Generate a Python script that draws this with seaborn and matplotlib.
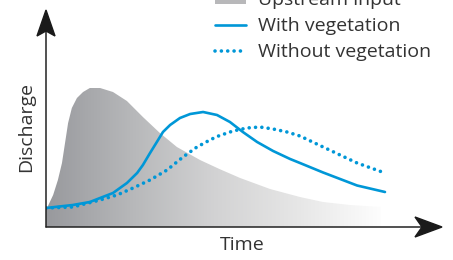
import numpy as np
import matplotlib
matplotlib.use("Agg")
import matplotlib.pyplot as plt
import seaborn as sns
from matplotlib.colors import LinearSegmentedColormap
from matplotlib.patches import Patch, Polygon
from matplotlib.lines import Line2D

# hydrograph values (time, discharge in arbitrary units)
t_upstream = [0.0, 0.03, 0.21, 0.35, 0.47, 0.56, 0.65, 0.76, 0.91, 1.09, 1.29,
              1.59, 1.97, 2.38, 2.85, 3.35, 3.85, 4.53, 5.1, 5.71, 6.59, 7.47,
              8.15, 8.94, 9.85]
q_upstream = [1.8, 1.9, 3.2, 4.7, 6.4, 8.4, 10.4, 11.9, 12.9, 13.5, 13.9,
              13.9, 13.5, 12.6, 11.0, 9.4, 8.0, 6.7, 5.8, 4.9, 3.8, 3.0,
              2.5, 2.2, 2.0]

t_with = [0.0, 0.79, 1.29, 1.59, 1.97, 2.38, 2.68, 2.85, 3.06, 3.26, 3.44,
          3.65, 3.94, 4.24, 4.62, 5.03, 5.41, 5.79, 6.21, 6.68, 7.18, 7.47,
          8.15, 9.15, 9.97]
q_with = [1.9, 2.2, 2.5, 2.9, 3.4, 4.4, 5.4, 6.2, 7.4, 8.5, 9.5,
          10.2, 10.9, 11.3, 11.5, 11.2, 10.5, 9.5, 8.5, 7.6, 6.8, 6.4,
          5.45, 4.15, 3.5]

t_without = [0.0, 0.79, 1.59, 2.09, 2.56, 3.06, 3.56, 4.03, 4.44, 4.82, 5.03,
             5.5, 5.91, 6.29, 6.68, 7.09, 7.47, 8.15, 9.15, 9.97]
q_without = [1.9, 2.0, 2.7, 3.2, 3.9, 4.7, 5.7, 7.0, 8.0, 8.7, 9.05,
             9.6, 9.9, 10.0, 9.8, 9.5, 9.1, 8.0, 6.4, 5.4]

labels = ["Upstream input", "With vegetation", "Without vegetation"]

blue = "#0097d7"
ink = "#333333"

sns.set_style("white")
plt.rcParams["font.family"] = ["Open Sans", "DejaVu Sans"]

W, H = 453, 260
fig = plt.figure(figsize=(W / 100, H / 100), dpi=100)
# axes origin at pixel (46, 227), arrow tips at x=442 and y=10
ax = fig.add_axes([46 / W, (H - 227) / H, 396 / W, 217 / H])
xmax, ymax = 396 / 34, 21.7
ax.set_xlim(0, xmax)
ax.set_ylim(0, ymax)
ax.axis("off")

# upstream input: grey gradient clipped to the hydrograph shape
fill = ax.fill_between(t_upstream, q_upstream, 0, color="none", lw=0)
cmap = LinearSegmentedColormap.from_list(
    "grey", ["#98999d", "#b6b7b9", "#d2d2d3", "#e6e6e6", "#fdfdfd"])
grad = np.linspace(0, 1, 256).reshape(1, -1)
img = ax.imshow(grad, extent=[0, t_upstream[-1], 0, ymax], aspect="auto",
                cmap=cmap, zorder=1, origin="lower")
img.set_clip_path(fill.get_paths()[0], transform=ax.transData)

dots = (0, (0.01, 1.75))
sns.lineplot(x=t_with, y=q_with, ax=ax, color=blue, lw=1.9, zorder=3,
             sort=False, estimator=None)
sns.lineplot(x=t_without, y=q_without, ax=ax, color=blue, lw=2.6, zorder=3,
             sort=False, estimator=None, linestyle=dots,
             dash_capstyle="round")

# axes with notched arrow heads (pixel geometry)
def px(x, y):
    return ((x - 46) / 396, (227 - y) / 217)

ax.plot(*zip(px(46, 227), px(436, 227)), color="#222222", lw=1.1,
        transform=ax.transAxes, clip_on=False, zorder=4)
ax.plot(*zip(px(46, 227), px(46, 16)), color="#222222", lw=1.1,
        transform=ax.transAxes, clip_on=False, zorder=4)
for pts in ([(442, 227), (415, 217), (422, 227), (415, 237)],
            [(46, 10), (37, 36), (46, 31), (55, 36)]):
    ax.add_patch(Polygon([px(*p) for p in pts], closed=True, color="#1a1a1a",
                         transform=ax.transAxes, clip_on=False, zorder=4))

fig.text(242 / W, 1 - 245 / H, "Time", ha="center", va="center",
         fontsize=14, color=ink)
fig.text(26 / W, 1 - 127 / H, "Discharge", ha="center", va="center",
         rotation=90, fontsize=14, color=ink)

handles = [Patch(facecolor="#b8b8ba", edgecolor="none"),
           Line2D([], [], color=blue, lw=1.9),
           Line2D([], [], color=blue, lw=2.6, linestyle=dots,
                  dash_capstyle="round")]
leg = fig.legend(handles, labels, loc="upper left",
                 bbox_to_anchor=(215 / W, 1 + 9 / H), frameon=False,
                 fontsize=14, handlelength=1.6, handleheight=0.5,
                 handletextpad=0.62, labelspacing=0.41, borderpad=0,
                 borderaxespad=0)
for txt in leg.get_texts():
    txt.set_color(ink)

fig.savefig("out.png", dpi=100)
